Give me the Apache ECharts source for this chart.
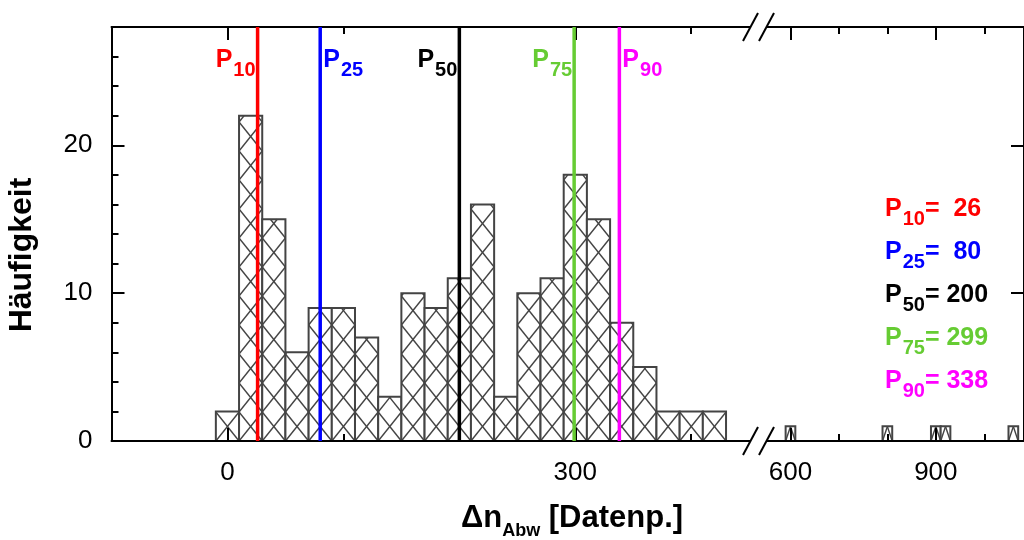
<!DOCTYPE html>
<html><head><meta charset="utf-8">
<script src="https://cdn.jsdelivr.net/npm/echarts@6/dist/echarts.min.js"></script>
<style>html,body{margin:0;padding:0;background:#fff}#c{width:1024px;height:540px}</style>
</head><body><div id="c"></div>
<script>
// ---- data ----
var binWidth = 20;
var binCenters = [0,20,40,60,80,100,120,140,160,180,200,220,240,260,280,300,320,340,360,380,400,420];
var binCounts  = [2,22,15,6,9,9,7,3,10,9,11,16,3,10,11,18,15,8,5,2,2,2];
var farBinCenters = [600,800,900,920,1060];
var farBinCounts  = [1,1,1,1,1];
var pctNames  = ['10','25','50','75','90'];
var pctValues = [26,80,200,299,338];
var xMajorLeft = [0,300];
var xMinorLeft = [100,200,400];
var xMajorRight = [600,900];
var xMinorRight = [700,800,1000];
var yMajor = [0,10,20];
var yMinor = [2,4,6,8,12,14,16,18,22,24,26];

// ---- styles / layout ----
var FONT = 'Liberation Sans, Arial, sans-serif';
var pctColors = ['#ff0000','#0000ff','#000000','#66cc33','#ff00ff'];
var pctSide = ['left','right','left','left','right'];
var yMax = 28;
var G0 = {left:111.5, top:27, width:647, height:414};
var G1 = {left:758.5, top:27, width:267, height:414};
var x0Min = -100, x0Max = 458, x1Min = 534, x1Max = 1082;

function hist(centers, counts){
  return centers.map(function(c,i){return [c-binWidth/2, c+binWidth/2, counts[i]];});
}

function renderHist(params, api){
  var xa = api.value(0), xb = api.value(1), c = api.value(2);
  var pb = api.coord([xa,0]), pt = api.coord([xb,c]);
  var L = pb[0], R = pt[0], B = pb[1], T = pt[1];
  var ch = 29;
  var kids = [{type:'rect', shape:{x:L,y:T,width:R-L,height:B-T}, style:{fill:'#fff'}}];
  function seg(xs, ys, xe, ye){
    if (ye < T){ var t=(ys-T)/(ys-ye); xe = xs+(xe-xs)*t; ye = T; }
    kids.push({type:'line', shape:{x1:xs,y1:ys,x2:xe,y2:ye}, style:{stroke:'#444', lineWidth:1.4}});
  }
  for (var yb=B; yb>T+0.5; yb-=ch){
    var yt = yb-ch;
    seg(L,yb,R,yt); seg(R,yb,L,yt);
  }
  kids.push({type:'rect', shape:{x:L,y:T,width:R-L,height:B-T}, style:{fill:'none', stroke:'#444', lineWidth:2}});
  return {type:'group', children:kids};
}

var richP = {
  p:{fontSize:25, fontWeight:'bold', fontFamily:FONT, lineHeight:28, verticalAlign:'top'},
  s:{fontSize:20, fontWeight:'bold', fontFamily:FONT, lineHeight:20, padding:[16,0,0,1]}
};

function renderPct(params, api){
  var i = params.dataIndex, v = api.value(0);
  var b = api.coord([v,0]), t = api.coord([v,yMax]);
  var right = pctSide[i]==='right';
  return {type:'group', children:[
    {type:'line', shape:{x1:b[0],y1:b[1],x2:t[0],y2:t[1]}, style:{stroke:pctColors[i], lineWidth:3.5}},
    {type:'text', x:b[0]+(right?3:-2), y:t[1]+21,
     style:{text:'{p|P}{s|'+pctNames[i]+'}', rich:richP, fill:pctColors[i], align:right?'left':'right', verticalAlign:'top'}}
  ]};
}

function xAx(grid, pos, min, max, ticks, len, labels){
  return {type:'value', gridIndex:grid, position:pos, min:min, max:max, z:5,
    axisLine:{show:len===13, onZero:false, lineStyle:{color:'#000', width:2}},
    axisTick:{show:true, inside:true, length:len, customValues:ticks, lineStyle:{color:'#000', width:2}},
    axisLabel:{show:!!labels, customValues:labels||[], fontSize:26, color:'#000', fontFamily:FONT, margin:19},
    splitLine:{show:false}};
}
function yAx(grid, pos, ticks, len, labels, line){
  return {type:'value', gridIndex:grid, position:pos, min:0, max:yMax, z:5,
    axisLine:{show:!!line, onZero:false, lineStyle:{color:'#000', width:2}},
    axisTick:{show:true, inside:true, length:len, customValues:ticks, lineStyle:{color:'#000', width:2}},
    axisLabel:{show:!!labels, customValues:labels||[], fontSize:26, color:'#000', fontFamily:FONT, margin:19},
    splitLine:{show:false}};
}

var legendItems = pctNames.map(function(n,i){
  var val = String(pctValues[i]); if (val.length<3) val = ' '+val;
  return {type:'text', left:885, top:193+i*43, z:10,
    style:{text:'{p|P}{s|'+n+'}{p|= '+val+'}', rich:richP, fill:pctColors[i]}};
});

var bx = G0.left+G0.width;
function brk(y){
  return [
    {type:'rect', shape:{x:bx-8,y:y-4,width:16,height:8}, style:{fill:'#fff'}, z:20},
    {type:'line', shape:{x1:bx-15.5,y1:y+14,x2:bx-0.5,y2:y-14}, style:{stroke:'#000',lineWidth:2}, z:21},
    {type:'line', shape:{x1:bx+0.5,y1:y+14,x2:bx+15.5,y2:y-14}, style:{stroke:'#000',lineWidth:2}, z:21}
  ];
}

var option = {
  animation:false,
  backgroundColor:'#fff',
  grid:[G0, G1],
  xAxis:[
    xAx(0,'bottom',x0Min,x0Max,xMajorLeft,13,xMajorLeft),
    xAx(0,'bottom',x0Min,x0Max,xMinorLeft,7),
    xAx(0,'top',x0Min,x0Max,xMajorLeft,13),
    xAx(0,'top',x0Min,x0Max,xMinorLeft,7),
    xAx(1,'bottom',x1Min,x1Max,xMajorRight,13,xMajorRight),
    xAx(1,'bottom',x1Min,x1Max,xMinorRight,7),
    xAx(1,'top',x1Min,x1Max,xMajorRight,13),
    xAx(1,'top',x1Min,x1Max,xMinorRight,7)
  ],
  yAxis:[
    yAx(0,'left',yMajor,13,yMajor,true),
    yAx(0,'left',yMinor,7),
    yAx(1,'right',yMajor,13,null,true)
  ],
  series:[
    {type:'custom', xAxisIndex:0, yAxisIndex:0, renderItem:renderHist, data:hist(binCenters,binCounts), encode:{x:[0,1],y:2}, clip:false, z:1},
    {type:'custom', xAxisIndex:4, yAxisIndex:2, renderItem:renderHist, data:hist(farBinCenters,farBinCounts), encode:{x:[0,1],y:2}, clip:false, z:1},
    {type:'custom', xAxisIndex:0, yAxisIndex:0, renderItem:renderPct, data:pctValues.map(function(v){return [v];}), encode:{x:0}, clip:false, z:6}
  ],
  graphic:[
    {type:'text', x:22, y:255, rotation:Math.PI/2, z:10,
     style:{text:'Häufigkeit', font:'bold 32px '+FONT, fill:'#000', align:'center', verticalAlign:'middle'}},
    {type:'text', x:572, y:503, z:10,
     style:{text:'{t|Δn}{u|Abw}{t| [Datenp.]}', align:'center', verticalAlign:'top', fill:'#000',
       rich:{t:{fontSize:31, fontWeight:'bold', fontFamily:FONT, lineHeight:34, verticalAlign:'top'},
             u:{fontSize:18, fontWeight:'bold', fontFamily:FONT, lineHeight:18, padding:[22,0,0,0]}}}}
  ].concat(legendItems).concat(brk(G0.top)).concat(brk(G0.top+G0.height))
};
var chart = echarts.init(document.getElementById('c'), null, {renderer:'canvas'});
chart.setOption(option);
</script>
</body></html>
